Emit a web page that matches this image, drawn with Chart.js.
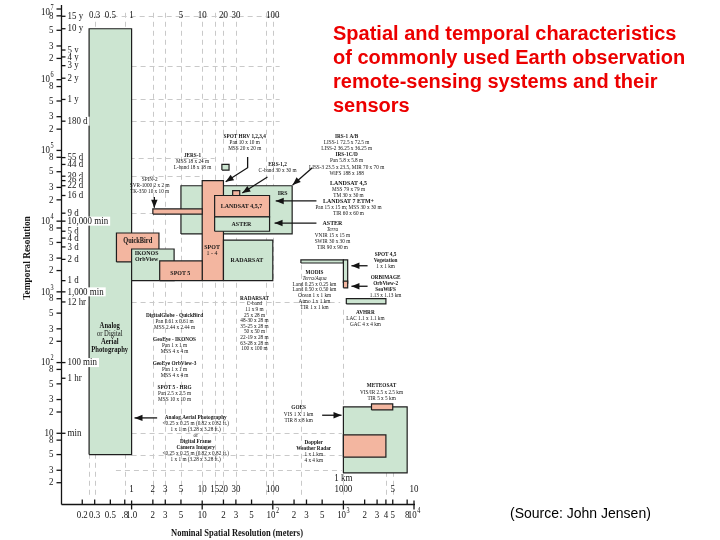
<!DOCTYPE html>
<html>
<head>
<meta charset="utf-8">
<script src="https://cdn.jsdelivr.net/npm/chart.js@4.4.0/dist/chart.umd.min.js"></script>
<style>
  html, body { margin: 0; padding: 0; background: #fff; }
  #wrap { position: relative; width: 720px; height: 540px; }
</style>
</head>
<body>
<div id="wrap"><canvas id="chart" width="720" height="540"></canvas></div>
<script>
// ===================== Data =====================
// Sensor boxes: spatial resolution in meters (x), revisit time in minutes (y)
const boxNames = ['Aerial Photography', 'IRS', 'SPOT 1-4', 'SPIN-2', 'LANDSAT 4,5,7', 'ASTER', 'ERS-1,2', 'JERS-1',
  'QuickBird', 'IKONOS', 'SPOT 5', 'RADARSAT', 'MODIS', 'SPOT Vegetation', 'SeaWiFS', 'AVHRR', 'GOES', 'METEOSAT', 'Doppler'];
const boxXMin = [0.25, 5, 10, 2, 15, 15, 27, 19, 0.61, 1, 2.5, 20, 250, 1000, 1000, 1100, 1000, 2500, 1000];
const boxXMax = [1, 188, 20, 10, 90, 90, 34, 24, 2.44, 4, 10, 100, 1000, 1150, 1150, 4000, 8000, 5000, 4000];
const boxYMin = [5, 6600, 1440, 12600, 11500, 7200, 23040, 52800, 2650, 1440, 1440, 1440, 2560, 1330, 1140, 675, 2.75, 21.4, 4.6];
const boxYMax = [5.26e6, 31680, 37440, 14900, 23040, 11500, 27000, 63360, 6800, 4040, 2740, 5400, 2830, 2830, 1420, 800, 23.6, 26, 9.5];

// Left axis, numeric ticks (minutes)
const yTickValues = [2, 3, 5, 8, 10, 20, 30, 50, 80, 100, 200, 300, 500, 800, 1000, 2000, 3000, 5000, 8000,
  1e4, 2e4, 3e4, 5e4, 8e4, 1e5, 2e5, 3e5, 5e5, 8e5, 1e6, 2e6, 3e6, 5e6, 8e6, 1e7];
const yTickLabels = ['2', '3', '5', '8', '10', '2', '3', '5', '8', '10^2', '2', '3', '5', '8', '10^3', '2', '3', '5', '8',
  '10^4', '2', '3', '5', '8', '10^5', '2', '3', '5', '8', '10^6', '2', '3', '5', '8', '10^7'];

// Left axis, time ticks
const timeValues = [7.89e6, 5.26e6, 2.63e6, 2.10e6, 1.58e6, 1.05e6, 525960, 259200, 79200, 63360, 43200, 37440,
  31680, 23040, 12960, 10000, 7200, 5760, 4320, 2880, 1440, 1000, 720, 100, 60, 10];
const timeLabels = ['15 y', '10 y', '5 y', '4 y', '3 y', '2 y', '1 y', '180 d', '55 d', '44 d', '30 d', '26 d',
  '22 d', '16 d', '9 d', '10,000 min', '5 d', '4 d', '3 d', '2 d', '1 d', '1,000 min', '12 hr', '100 min', '1 hr', 'min'];

// Bottom axis (meters)
const xTickValues = [0.2, 0.3, 0.5, 0.8, 1, 2, 3, 5, 10, 20, 30, 50, 100, 200, 300, 500, 1000, 2000, 3000, 4000, 5000, 8000, 10000];
const xTickLabels = ['0.2', '0.3', '0.5', '.8', '1.0', '2', '3', '5', '10', '2', '3', '5', '10^2', '2', '3', '5',
  '10^3', '2', '3', '4', '5', '8', '10^4'];

// Labels along the top edge and above the bottom axis
const xTopValues = [0.3, 0.5, 1, 5, 10, 20, 30, 100];
const xTopLabels = ['0.3', '0.5', '1', '5', '10', '20', '30', '100'];
const xInnerValues = [1, 2, 3, 5, 10, 15, 20, 30, 100, 1000, 5000, 10000];
const xInnerLabels = ['1', '2', '3', '5', '10', '15', '20', '30', '100', '1000', '5', '10'];

// Dashed guide lines: [value, from, to]
const gridX = [[0.25, 1.35, 5], [0.3, 1.35, 1e7], [0.8, 1.35, 1e7], [2, 1.35, 1e7], [3, 1.35, 1e7], [5, 1.35, 1e7],
  [10, 1.35, 1e7], [15, 1.35, 1e7], [20, 1.35, 1e7], [30, 1.35, 1e7], [80, 1.35, 1e7], [100, 1.35, 1e7],
  [250, 1.35, 2500], [1000, 1.35, 600], [4000, 1.35, 2.75], [5000, 1.35, 2.75]];
const gridY = [[7.89e6, 0.3, 125], [1.58e6, 1, 125], [525960, 1, 125], [259200, 1, 125], [79200, 0.7, 15],
  [43200, 1, 10], [12960, 1, 5], [720, 1, 900], [10, 1, 950], [5, 1, 950], [3, 0.6, 950]];

// ===================== Annotations =====================
// '*' bold, '#' larger bold, '_' italic
const notes = [
  { at: [0.49, 330], gap: 8, size: 7.8, lines: ['*Analog', 'or Digital', '*Aerial', '*Photography'] },
  { at: [1.22, 5250], size: 7.5, lines: ['*QuickBird'] },
  { at: [1.63, 3550], gap: 6.5, size: 7, lines: ['*IKONOS', '*OrbView'] },
  { at: [4.9, 1830], size: 7, lines: ['*SPOT 5'] },
  { at: [13.8, 4300], gap: 6.5, size: 7, lines: ['*SPOT', '1 - 4'] },
  { at: [43, 2830], size: 7, lines: ['*RADARSAT'] },
  { at: [36, 16300], size: 7, lines: ['*LANDSAT 4,5,7'] },
  { at: [36, 9100], size: 7, lines: ['*ASTER'] },
  { at: [138, 25000], size: 7, lines: ['*IRS'] },
  { at: [40, 160000], lines: ['*SPOT HRV 1,2,3,4', 'Pan 10 x 10 m', 'MSS 20 x 20 m'] },
  { at: [7.3, 85000], lines: ['*JERS-1', 'MSS 18 x 24 m', 'L-band 18 x 18 m'] },
  { at: [117, 64000], lines: ['*ERS-1,2', 'C-band 30 x 30 m'] },
  { at: [1.8, 39500], lines: ['SPIN-2', 'SVR-1000 2 x 2 m', 'TK-350 10 x 10 m'] },
  { at: [1110, 160000], lines: ['*IRS-1 A/B', 'LISS-1 72.5 x 72.5 m', 'LISS-2 36.25 x 36.25 m', '*IRS-1C/D',
    'Pan 5.8 x 5.8 m', 'LISS-3 23.5 x 23.5, MIR 70 x 70 m', 'WiFS 188 x 188'] },
  { at: [1180, 34800], lines: ['#LANDSAT 4,5', 'MSS 79 x 79 m', 'TM 30 x 30 m', '#LANDSAT 7 ETM+',
    'Pan 15 x 15 m; MSS 30 x 30 m', 'TIR 60 x 60 m'] },
  { at: [700, 9400], lines: ['#ASTER', '_Terra', 'VNIR 15 x 15 m', 'SWIR 30 x 30 m', 'TIR 90 x 90 m'] },
  { at: [3960, 3440], lines: ['*SPOT 4,5', '*Vegetation', '1 x 1 km'] },
  { at: [3960, 1620], lines: ['*ORBIMAGE', '*OrbView-2', '*SeaWiFS', '1.13 x 1.13 km'] },
  { at: [390, 1900], gap: 5.9, lines: ['*MODIS', '_Terra/Aqua', 'Land 0.25 x 0.25 km', 'Land 0.50 x 0.50 km',
    'Ocean 1 x 1 km', 'Atmo 1 x 1 km', 'TIR 1 x 1 km'] },
  { at: [2050, 520], lines: ['*AVHRR', 'LAC 1.1 x 1.1 km', 'GAC 4 x 4 km'] },
  { at: [55, 815], gap: 5.6, lines: ['*RADARSAT', 'C-band', '11 x 9 m', '25 x 28 m', '48-30 x 28 m', '35-25 x 28 m',
    '50 x 50 m', '22-19 x 28 m', '63-28 x 28 m', '100 x 100 m'] },
  { at: [4.06, 470], lines: ['*DigitalGlobe - QuickBird', 'Pan 0.61 x 0.61 m', 'MSS 2.44 x 2.44 m'] },
  { at: [4.06, 215], lines: ['*GeoEye - IKONOS', 'Pan 1 x 1 m', 'MSS 4 x 4 m'] },
  { at: [4.06, 98], lines: ['*GeoEye OrbView-3', 'Pan 1 x 1 m', 'MSS 4 x 4 m'] },
  { at: [4.06, 45], lines: ['*SPOT 5 - HRG', 'Pan 2.5 x 2.5 m', 'MSS 10 x 10 m'] },
  { at: [8.1, 17], gap: 6, lines: ['*Analog Aerial Photography', '<0.25 x 0.25 m (0.82 x 0.82 ft.)',
    '1 x 1 m (3.28 x 3.28 ft.)', 'or', '*Digital Frame', '*Camera Imagery', '<0.25 x 0.25 m (0.82 x 0.82 ft.)',
    '1 x 1 m (3.28 x 3.28 ft.)'] },
  { at: [232, 22.9], lines: ['*GOES', 'VIS 1 X 1 km', 'TIR 8 x 8 km'] },
  { at: [3470, 47], lines: ['*METEOSAT', 'VIS/IR 2.5 x 2.5 km', 'TIR 5 x 5 km'] },
  { at: [380, 7.5], lines: ['*Doppler', '*Weather Radar', '1 x 1 km', '4 x 4 km'] },
];

// Callout arrows (points in meters/minutes, head at the last point)
const arrows = [
  [[44, 81000], [44, 57000], [21.5, 36000]],
  [[84, 42000], [37, 25000]],
  [[363, 57000], [191, 32500]],
  [[415, 19300], [110, 19300]],
  [[415, 9400], [106, 9400]],
  [[2.1, 22000], [2.1, 15500]],
  [[2200, 2340], [1300, 2340]],
  [[2200, 1200], [1300, 1200]],
  [[2.3, 16.5], [1.1, 16.5]],
  [[500, 18], [940, 18]],
];

// ===================== Style =====================
const GREEN_FILL = 'rgb(204, 229, 209)';
const SALMON_FILL = 'rgb(243, 182, 160)';
const SALMON = new Set(['SPOT 1-4', 'SPIN-2', 'LANDSAT 4,5,7', 'ERS-1,2', 'QuickBird', 'SPOT 5', 'SeaWiFS', 'METEOSAT', 'Doppler']);
const INK = '#141414';
const GRID_COLOR = '#c9c9c9';
const SERIF = '"Liberation Serif", "DejaVu Serif", serif';
const SANS = '"Liberation Sans", Arial, sans-serif';
const SX = 0.85; // the source figure's type is horizontally squeezed

// ===================== Text helpers =====================
function txt(ctx, s, x, y, font, align) {
  ctx.save();
  ctx.font = font;
  ctx.textAlign = align || 'left';
  ctx.textBaseline = 'middle';
  ctx.translate(x, y);
  ctx.scale(SX, 1);
  ctx.fillText(s, 0, 0);
  ctx.restore();
}

function textWidth(ctx, s, font) {
  ctx.save();
  ctx.font = font;
  const w = ctx.measureText(s).width * SX;
  ctx.restore();
  return w;
}

function supLabel(ctx, label, x, y, size, align) {
  const [base, exp] = label.split('^');
  const f1 = `${size}px ${SERIF}`, f2 = `${size * 0.7}px ${SERIF}`;
  const w1 = textWidth(ctx, base, f1), w2 = exp ? textWidth(ctx, exp, f2) + 0.5 : 0;
  const x0 = align === 'right' ? x - w1 - w2 : align === 'center' ? x - (w1 + w2) / 2 : x;
  txt(ctx, base, x0, y, f1);
  if (exp) txt(ctx, exp, x0 + w1 + 0.5, y - size * 0.4, f2);
}

function seg(ctx, x1, y1, x2, y2) {
  ctx.beginPath();
  ctx.moveTo(x1, y1);
  ctx.lineTo(x2, y2);
  ctx.stroke();
}

// ===================== Plugins =====================
const guidePlugin = {
  id: 'guides',
  beforeDatasetsDraw(chart) {
    const { ctx, scales: { x, y } } = chart;
    ctx.save();
    ctx.strokeStyle = GRID_COLOR;
    ctx.lineWidth = 1;
    ctx.setLineDash([5, 4]);
    gridX.forEach(([v, a, b]) => {
      const px = Math.round(x.getPixelForValue(v)) + 0.5;
      seg(ctx, px, y.getPixelForValue(a), px, y.getPixelForValue(b));
    });
    gridY.forEach(([v, a, b]) => {
      const py = Math.round(y.getPixelForValue(v)) + 0.5;
      seg(ctx, x.getPixelForValue(a), py, x.getPixelForValue(b), py);
    });
    ctx.restore();
  },
};

const axesPlugin = {
  id: 'axesAndText',
  afterDatasetsDraw(chart) {
    const { ctx, scales: { x, y } } = chart;
    const left = Math.round(x.getPixelForValue(0.1)) + 0.5;
    const bottom = Math.round(y.getPixelForValue(1)) + 0.5;
    const right = x.getPixelForValue(10000);
    const top = y.getPixelForValue(1e7);

    ctx.save();
    ctx.strokeStyle = INK;
    ctx.fillStyle = INK;
    ctx.lineWidth = 1.3;

    // Axis lines
    seg(ctx, left, bottom, left, top - 4);
    seg(ctx, left, bottom, right + 1, bottom);

    // Left numeric ticks
    yTickValues.forEach((v, i) => {
      const py = y.getPixelForValue(v);
      seg(ctx, left - 5, py, left, py);
      const lift = v === 1e7 ? 3 : 0; // top label sits just under the canvas edge
      supLabel(ctx, yTickLabels[i], left - 8, py + lift, 10.5, 'right');
    });

    // Left time ticks (on white so they read over the boxes)
    timeValues.forEach((v, i) => {
      const py = y.getPixelForValue(v);
      const f = `10.5px ${SERIF}`;
      const w = textWidth(ctx, timeLabels[i], f);
      ctx.fillStyle = '#fff';
      ctx.fillRect(left + 5, py - 4.5, w + 3, 9);
      ctx.fillStyle = INK;
      seg(ctx, left, py, left + 4, py);
      txt(ctx, timeLabels[i], left + 6, py, f);
    });

    // Bottom ticks
    xTickValues.forEach((v, i) => {
      const px = x.getPixelForValue(v);
      const decade = /^10|^1\.0/.test(xTickLabels[i]);
      if (decade) seg(ctx, px, bottom - 4, px, bottom + 5);
      else seg(ctx, px, bottom - 5, px, bottom);
      supLabel(ctx, xTickLabels[i], px, bottom + 11, 10.5, 'center');
    });

    // Top and inner labels
    xTopValues.forEach((v, i) => supLabel(ctx, xTopLabels[i], x.getPixelForValue(v), 15, 10.5, 'center'));
    xInnerValues.forEach((v, i) => supLabel(ctx, xInnerLabels[i], x.getPixelForValue(v), 489, 10.5, 'center'));
    txt(ctx, '1 km', x.getPixelForValue(1000), 478, `10.5px ${SERIF}`, 'center');

    // Callout arrows
    ctx.lineWidth = 1.3;
    arrows.forEach(pts => {
      const p = pts.map(([vx, vy]) => [x.getPixelForValue(vx), y.getPixelForValue(vy)]);
      ctx.beginPath();
      ctx.moveTo(p[0][0], p[0][1]);
      p.slice(1).forEach(q => ctx.lineTo(q[0], q[1]));
      ctx.stroke();
      const [ax, ay] = p[p.length - 2], [bx, by] = p[p.length - 1];
      const ang = Math.atan2(by - ay, bx - ax);
      const L = 8, W = 3.2;
      ctx.beginPath();
      ctx.moveTo(bx, by);
      ctx.lineTo(bx - L * Math.cos(ang) + W * Math.sin(ang), by - L * Math.sin(ang) - W * Math.cos(ang));
      ctx.lineTo(bx - L * Math.cos(ang) - W * Math.sin(ang), by - L * Math.sin(ang) + W * Math.cos(ang));
      ctx.closePath();
      ctx.fill();
    });

    // Sensor notes
    notes.forEach(n => {
      const cx = x.getPixelForValue(n.at[0]);
      const cy = y.getPixelForValue(n.at[1]);
      const size = n.size || 6.2;
      const gap = n.gap || 6.2;
      n.lines.forEach((line, k) => {
        let font = `${size}px ${SERIF}`, s = line;
        if (line[0] === '*') { font = `bold ${size}px ${SERIF}`; s = line.slice(1); }
        else if (line[0] === '#') { font = `bold ${size + 0.8}px ${SERIF}`; s = line.slice(1); }
        else if (line[0] === '_') { font = `italic ${size}px ${SERIF}`; s = line.slice(1); }
        txt(ctx, s, cx, cy + k * gap, font, 'center');
      });
    });

    // Axis titles
    ctx.save();
    ctx.translate(27, 258);
    ctx.rotate(-Math.PI / 2);
    txt(ctx, 'Temporal Resolution', 0, 0, `bold 11px ${SERIF}`, 'center');
    ctx.restore();
    txt(ctx, 'Nominal Spatial Resolution (meters)', 237, 533, `bold 10px ${SERIF}`, 'center');

    // Title and source
    ctx.textBaseline = 'middle';
    ctx.textAlign = 'left';
    ctx.fillStyle = 'rgb(236, 0, 0)';
    ctx.font = `bold 20px ${SANS}`;
    ['Spatial and temporal characteristics', 'of commonly used Earth observation',
      'remote-sensing systems and their', 'sensors'].forEach((line, k) => ctx.fillText(line, 333, 34 + k * 24));
    ctx.fillStyle = '#000';
    ctx.font = `14px ${SANS}`;
    ctx.fillText('(Source: John Jensen)', 510, 514);
    ctx.restore();
  },
};

// ===================== Chart =====================
const datasets = boxNames.map((name, i) => ({
  label: name,
  data: [
    { x: boxXMin[i], y: boxYMin[i] }, { x: boxXMax[i], y: boxYMin[i] },
    { x: boxXMax[i], y: boxYMax[i] }, { x: boxXMin[i], y: boxYMax[i] },
    { x: boxXMin[i], y: boxYMin[i] },
  ],
  borderColor: '#1e1e1e',
  borderWidth: 1.2,
  borderJoinStyle: 'miter',
  backgroundColor: SALMON.has(name) ? SALMON_FILL : GREEN_FILL,
  fill: 'shape',
  pointRadius: 0,
  tension: 0,
  order: boxNames.length - i, // first box sits at the back
}));

new Chart(document.getElementById('chart'), {
  type: 'line',
  data: { datasets },
  options: {
    responsive: false,
    animation: false,
    layout: { padding: { left: 61, right: 306, top: 9, bottom: 36 } },
    scales: {
      x: { type: 'logarithmic', min: 0.1, max: 10000, display: false },
      y: { type: 'logarithmic', min: 1, max: 1e7, display: false },
    },
    plugins: { legend: { display: false }, tooltip: { enabled: false } },
  },
  plugins: [guidePlugin, axesPlugin],
});
</script>
</body>
</html>
